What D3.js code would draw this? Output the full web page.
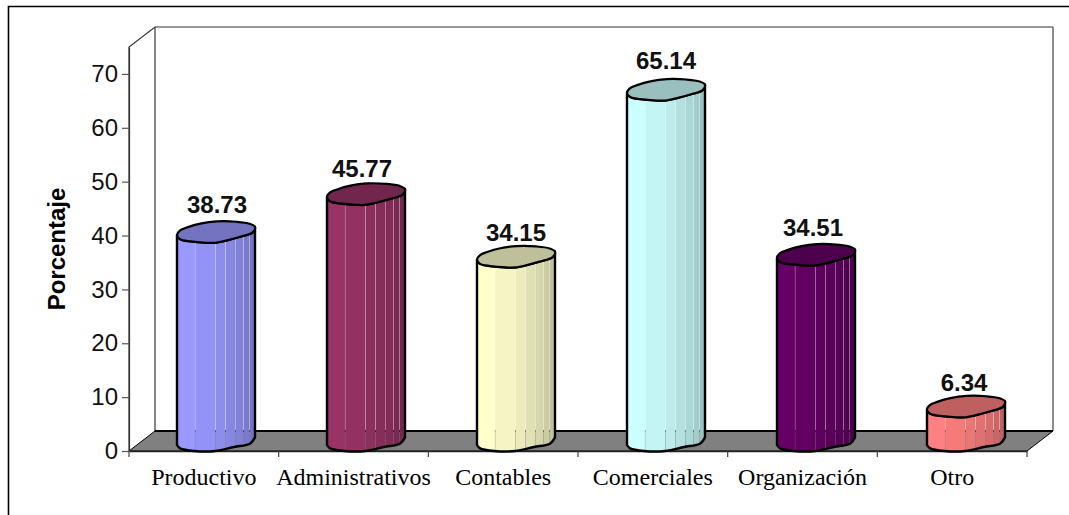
<!DOCTYPE html>
<html lang="en">
<head>
<meta charset="UTF-8">
<title>Porcentaje por area</title>
<script src="https://d3js.org/d3.v7.min.js"></script>
<style>
  html, body { margin: 0; padding: 0; background: #fff; }
  svg { display: block; }
</style>
</head>
<body>
<div id="chart"></div>
<script>
// data
const categories = ["Productivo", "Administrativos", "Contables", "Comerciales", "Organización", "Otro"];
const values = [38.73, 45.77, 34.15, 65.14, 34.51, 6.34];
const barColors = ["#9999ff", "#993366", "#ffffcc", "#ccffff", "#660066", "#ff8080"];
const yTicks = [0, 10, 20, 30, 40, 50, 60, 70];

// chart box
const W = 1069, H = 515;
const plot = { left: 129, right: 1027, top: 47, bottom: 451 };
const depth = { x: 26, y: 20 };

const x = d3.scaleBand().domain(categories).range([plot.left, plot.right]);
// bars step a little wider than the axis ticks in the original
const barX = d3.scaleBand().domain(categories).range([plot.left, plot.left + 900]);
const y = d3.scaleLinear().domain([0, 75]).range([plot.bottom, plot.top]);

const barWidth = 78;
const barOffset = 48;

// cylinder outline, as [share of bar width, share of depth above the front point]
const capShape = [[0, .37], [.04, .6], [.13, .75], [.3, .94], [.51, 1.05], [.76, 1.03], [.93, .93], [1, .77], [.97, .5], [.8, .27], [.64, .1], [.49, -.02], [.38, -.02], [.17, .05], [.04, .16]];
const footShape = [[1, .68], [.94, .38], [.73, .2], [.49, 0], [.22, 0], [.04, .13], [0, .3]];
// strip edges across the cylinder, and how dark each strip is
const stripEdges = [0, .23, .49, .62, .745, .85, .93, 1];
const stripShade = [1, .96, .92, .88, .84, .8, .76];
// the value labels do not sit at one fixed height or centre in the original
const labelLift = [29, 27, 26, 31, 29.5, 26];
const labelShift = [1, -4, 0, 0, -3, -2];

const svg = d3.select("#chart").append("svg").attr("width", W).attr("height", H);
svg.append("rect").attr("width", W).attr("height", H).attr("fill", "#fff");

// outer frame, only top and left show
svg.append("path")
  .attr("d", d3.line()([[8.5, H], [8.5, 6.5], [W, 6.5]]))
  .attr("fill", "none").attr("stroke", "#000").attr("stroke-width", 1.6);

// walls
const wallPath = pts => d3.line()(pts);
svg.append("path")
  .attr("d", wallPath([[plot.left, plot.bottom], [plot.left, plot.top], [plot.left + depth.x, plot.top - depth.y], [plot.right + depth.x, plot.top - depth.y]]))
  .attr("fill", "none").attr("stroke", "#333").attr("stroke-width", 1.2);
svg.append("path")
  .attr("d", wallPath([[plot.right + depth.x, plot.top - depth.y], [plot.right + depth.x, plot.bottom - depth.y]]))
  .attr("stroke", "#666").attr("stroke-width", 1.5);
svg.append("path")
  .attr("d", wallPath([[plot.left + depth.x, plot.top - depth.y], [plot.left + depth.x, plot.bottom - depth.y]]))
  .attr("stroke", "#333").attr("stroke-width", 1.2);

// floor
svg.append("path")
  .attr("d", wallPath([[plot.left, plot.bottom], [plot.right, plot.bottom], [plot.right + depth.x, plot.bottom - depth.y], [plot.left + depth.x, plot.bottom - depth.y]]) + "Z")
  .attr("fill", "#808080").attr("stroke", "#000").attr("stroke-width", 1);
svg.append("path")
  .attr("d", wallPath([[plot.left + depth.x, plot.bottom - depth.y], [plot.right + depth.x, plot.bottom - depth.y]]))
  .attr("stroke", "#000").attr("stroke-width", 2);

// axes
const yAxis = d3.axisLeft(y).tickValues(yTicks).tickSize(7).tickSizeOuter(0).tickPadding(4);
const gy = svg.append("g").attr("transform", `translate(${plot.left},0)`).call(yAxis);
gy.select(".domain").attr("stroke", "#333").attr("stroke-width", 1.2);
gy.selectAll(".tick line").attr("stroke", "#555").attr("stroke-width", 1.2);
gy.selectAll("text").attr("font-family", "Liberation Sans").attr("font-size", 24).attr("fill", "#111");

const xAxis = d3.axisBottom(x).tickSize(0).tickPadding(17);
const gx = svg.append("g").attr("transform", `translate(0,${plot.bottom})`).call(xAxis);
gx.select(".domain").attr("stroke", "#222").attr("stroke-width", 1.5);
gx.selectAll("text").attr("font-family", "Liberation Serif").attr("font-size", 24).attr("fill", "#000");
// ticks sit between the categories
gx.selectAll(".sep").data(d3.range(categories.length + 1)).enter().append("line")
  .attr("class", "sep")
  .attr("x1", i => plot.left + i * x.step()).attr("x2", i => plot.left + i * x.step())
  .attr("y1", 0).attr("y2", 6).attr("stroke", "#444").attr("stroke-width", 1.2);

// y title
svg.append("text")
  .attr("transform", "translate(65,249) rotate(-90)")
  .attr("text-anchor", "middle")
  .attr("font-family", "Liberation Sans").attr("font-weight", "bold").attr("font-size", 24)
  .text("Porcentaje");

// bars
const smooth = d3.line().curve(d3.curveCatmullRom.alpha(0.5));
const smoothClosed = d3.line().curve(d3.curveCatmullRomClosed.alpha(0.5));
const defs = svg.append("defs");

categories.forEach((cat, i) => {
  const left = barX(cat) + barOffset;
  const top = y(values[i]);
  const base = y(0);
  const color = d3.color(barColors[i]);
  const shade = k => d3.rgb(color.r * k, color.g * k, color.b * k).formatHex();

  const capPts = capShape.map(p => [left + p[0] * barWidth, top - p[1] * depth.y]);
  const footPts = footShape.map(p => [left + p[0] * barWidth, base - p[1] * depth.y]);
  const frontCap = capPts.slice(7).concat([capPts[0]]);
  const bodyD = smooth(frontCap.slice().reverse()) + "L" + smooth(footPts).slice(1) + "Z";

  const g = svg.append("g");
  defs.append("clipPath").attr("id", "body" + i).append("path").attr("d", bodyD);

  g.append("g").attr("clip-path", `url(#body${i})`)
    .selectAll("rect").data(stripShade).enter().append("rect")
    .attr("x", (d, s) => left + stripEdges[s] * barWidth + (s ? 0.3 : 0))
    .attr("width", (d, s) => (stripEdges[s + 1] - stripEdges[s]) * barWidth - (s ? 0.3 : 0))
    .attr("y", y(values[i]) - depth.y)
    .attr("height", base - top + depth.y)
    .attr("fill", d => shade(d));

  g.append("path").attr("d", bodyD).attr("fill", "none")
    .attr("stroke", "#000").attr("stroke-width", 2.4).attr("stroke-linejoin", "round");
  g.append("path").attr("d", smoothClosed(capPts))
    .attr("fill", shade(0.75)).attr("stroke", "#000").attr("stroke-width", 2.2);

  svg.append("text")
    .attr("x", left + barWidth / 2 + labelShift[i])
    .attr("y", top - labelLift[i])
    .attr("text-anchor", "middle")
    .attr("font-family", "Liberation Sans").attr("font-weight", "bold").attr("font-size", 24)
    .attr("fill", "#111")
    .text(values[i].toFixed(2));
});
</script>
</body>
</html>
